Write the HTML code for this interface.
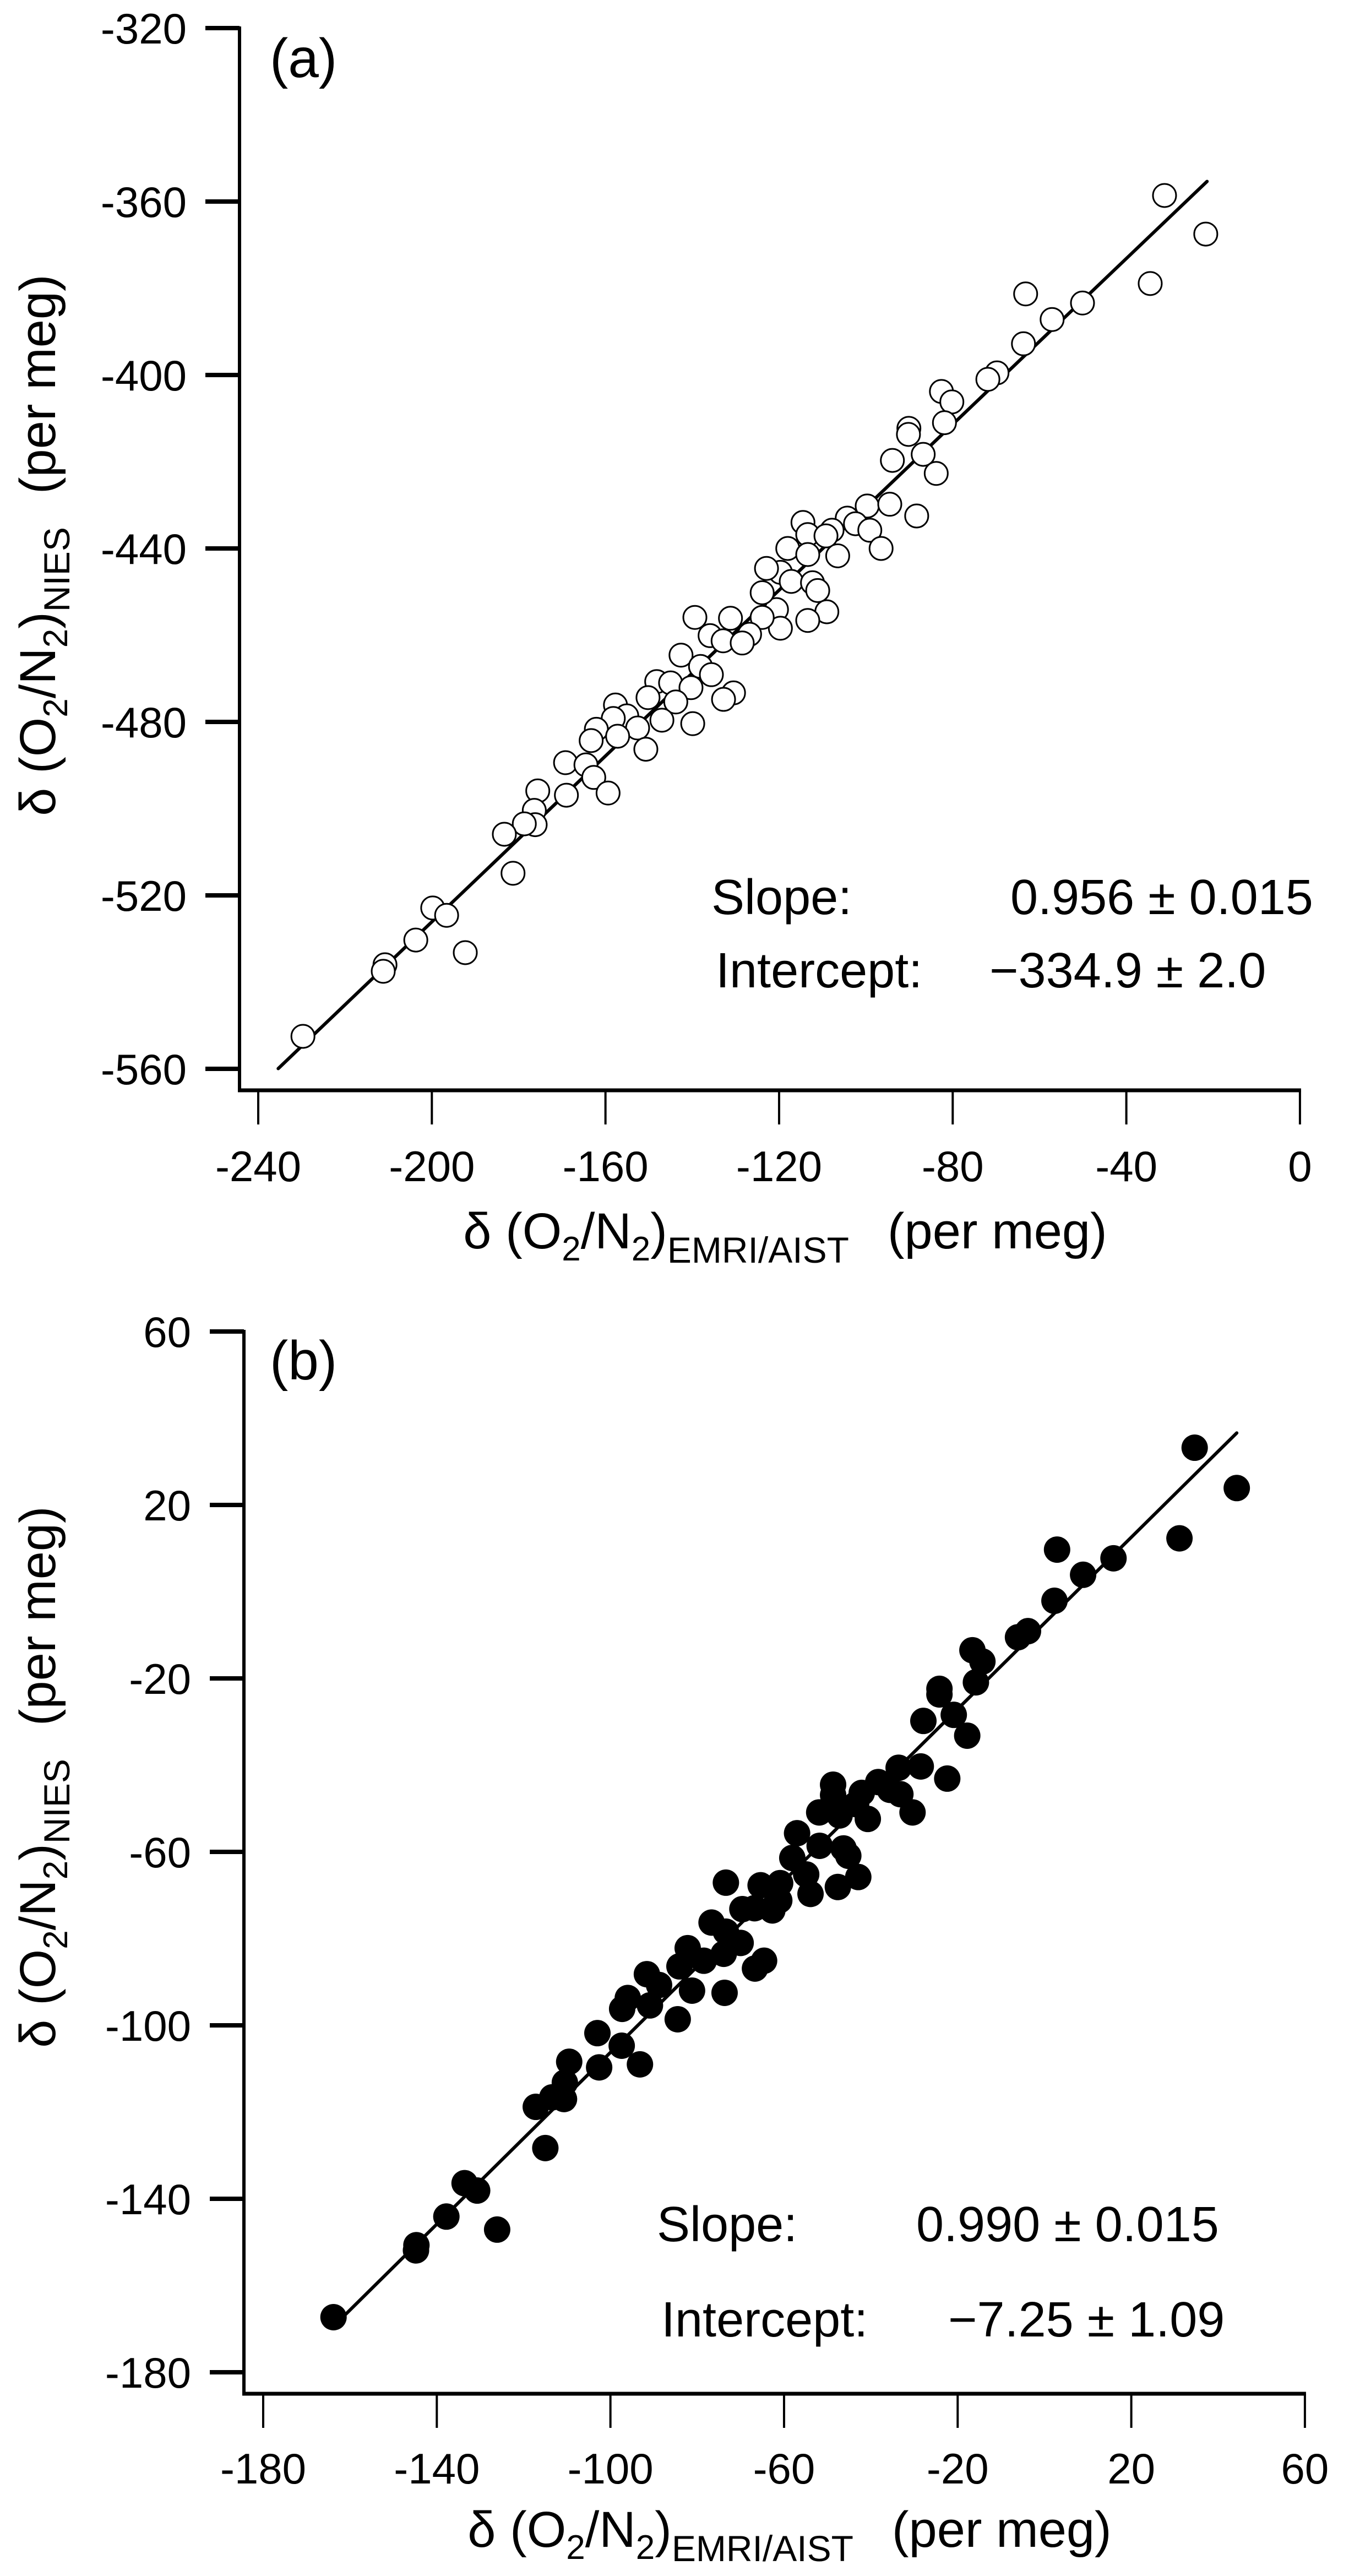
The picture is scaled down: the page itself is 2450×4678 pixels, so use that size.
<!DOCTYPE html>
<html><head><meta charset="utf-8"><style>
html,body{margin:0;padding:0;background:#fff;}
svg{display:block;font-family:"Liberation Sans",Arial,sans-serif;}
</style></head><body>
<svg id="fig" width="2450" height="4678" viewBox="0 0 2450 4678" xmlns="http://www.w3.org/2000/svg">
<rect width="2450" height="4678" fill="#fff"/>
<g id="panelA"></g>
<g id="panelB"></g>
</svg>
<script>
// ----- Panel (a) data -----
const aX = [-31.2,-21.7,-34.5,-63.2,-50.1,-57.1,-63.7,-69.8,-71.9,-82.6,-80.2,-81.9,-90.1,-90.2,-86.8,-93.9,-83.8,-99.7,-94.5,-88.3,-104.3,-102.4,-99.1,-114.5,-113.4,-107.8,-109.2,-118.0,-106.5,-96.5,-113.4,-119.7,-117.2,-112.3,-111.1,-109.0,-113.4,-120.6,-119.7,-122.9,-123.9,-123.9,-139.4,-131.2,-135.9,-132.9,-126.8,-128.5,-142.6,-138.1,-135.6,-148.2,-145.0,-140.3,-130.5,-132.8,-150.2,-143.8,-147.0,-139.9,-157.7,-155.1,-158.2,-152.6,-162.1,-163.3,-157.2,-150.7,-169.2,-164.5,-162.7,-169.0,-159.4,-175.6,-176.4,-176.2,-178.7,-183.3,-181.3,-199.8,-196.6,-203.7,-192.3,-210.8,-211.2,-229.7];
const aY = [-358.6,-367.5,-378.9,-381.3,-383.4,-387.2,-392.8,-399.5,-401.0,-403.8,-406.2,-411.0,-412.3,-413.7,-418.3,-419.7,-422.7,-430.2,-429.8,-432.5,-433.0,-434.3,-435.8,-434.0,-436.8,-435.8,-437.1,-440.0,-441.7,-440.0,-441.4,-445.5,-447.6,-447.9,-449.7,-454.6,-456.6,-454.1,-458.4,-444.6,-450.2,-455.9,-455.9,-456.1,-460.1,-461.3,-459.8,-461.8,-464.6,-467.2,-469.1,-470.7,-471.0,-472.1,-473.3,-474.8,-474.4,-475.4,-479.6,-480.4,-476.1,-478.6,-479.2,-481.4,-481.7,-484.3,-483.3,-486.3,-489.4,-489.9,-492.8,-496.9,-496.4,-495.9,-500.4,-503.7,-503.5,-505.9,-514.9,-522.9,-524.6,-530.3,-533.2,-536.0,-537.5,-552.5];
const aFit = [0.956, -334.9];
const aFitRange = [-235.4, -21.4];
const aXTicks = [-240,-200,-160,-120,-80,-40,0];
const aYTicks = [-320,-360,-400,-440,-480,-520,-560];
// ----- Panel (b) data -----
const bX = [34.6,44.3,31.1,2.9,15.9,8.9,2.3,-3.8,-6.1,-16.6,-14.3,-15.8,-24.2,-24.2,-20.9,-27.9,-17.8,-33.6,-28.5,-22.4,-38.3,-35.6,-33.2,-48.7,-48.7,-42.1,-43.4,-30.4,-40.7,-51.9,-47.2,-57.0,-51.8,-46.3,-45.2,-58.1,-54.9,-42.9,-47.6,-53.9,-60.9,-61.1,-62.7,-73.4,-65.4,-69.6,-66.8,-76.7,-73.4,-70.0,-73.9,-82.2,-78.5,-64.6,-66.7,-84.1,-81.2,-73.7,-91.6,-88.8,-96.0,-97.3,-90.9,-84.5,-103.0,-97.4,-102.6,-93.2,-109.5,-110.5,-117.2,-110.7,-113.4,-115.0,-133.6,-130.7,-137.8,-126.1,-144.7,-144.8,-163.8];
const bY = [33.2,23.9,12.3,9.7,7.7,3.9,-2.1,-9.1,-10.5,-13.5,-16.1,-20.9,-22.4,-23.7,-28.4,-29.8,-33.2,-40.6,-40.3,-43.1,-43.9,-45.7,-46.7,-44.5,-46.9,-46.4,-49.0,-50.9,-52.4,-50.9,-51.6,-55.7,-58.6,-59.2,-60.9,-61.4,-65.2,-65.8,-68.1,-69.7,-67.2,-71.2,-73.5,-67.1,-67.7,-73.2,-73.0,-76.3,-78.4,-81.0,-83.5,-82.2,-85.1,-85.1,-86.9,-86.4,-92.0,-92.5,-88.2,-90.7,-93.7,-96.2,-95.4,-98.6,-101.8,-104.7,-109.7,-109.0,-108.4,-113.2,-118.8,-117.0,-116.6,-128.3,-136.4,-138.1,-144.1,-147.1,-150.7,-151.9,-167.3];
const bFit = [0.990, -7.25];
const bFitRange = [-161, 44.3];
const bXTicks = [-180,-140,-100,-60,-20,20,60];
const bYTicks = [60,20,-20,-60,-100,-140,-180];

const NS = "http://www.w3.org/2000/svg";
function mk(parent, tag, attrs, text){
  const e = document.createElementNS(NS, tag);
  for (const k in attrs) e.setAttribute(k, attrs[k]);
  if (text !== undefined) e.textContent = text;
  parent.appendChild(e);
  return e;
}
function lab(n){ return n < 0 ? "-" + Math.abs(n) : String(n); }

function drawPanel(g, cfg){
  const sx = v => cfg.x0 + (v - cfg.xMin) * cfg.kx;
  const sy = v => cfg.y0 + (cfg.yTop - v) * cfg.ky;
  const axisLeft = cfg.axisX, axisBottom = cfg.axisY;
  const ya = mk(g, "line", {x1:axisLeft, y1:sy(cfg.yTop)-3, x2:axisLeft, y2:axisBottom, stroke:"#000","stroke-width":6});
  
  
  const xa = mk(g, "line", {x1:axisLeft-3, y1:axisBottom, x2:sx(cfg.xTicks[cfg.xTicks.length-1])+2, y2:axisBottom, stroke:"#000","stroke-width":7});
  
  
  cfg.yTicks.forEach(v => {
    const y = sy(v);
    const t = mk(g, "line", {x1:axisLeft-62, y1:y, x2:axisLeft, y2:y, stroke:"#000","stroke-width":8});
    
    
    const l = mk(g, "text", {x:axisLeft-96, y:y+28, "text-anchor":"end","font-size":78}, lab(v));
    
    
  });
  cfg.xTicks.forEach(v => {
    const x = sx(v);
    const t = mk(g, "line", {x1:x, y1:axisBottom, x2:x, y2:axisBottom+62, stroke:"#000","stroke-width":4});
    
    
    const l = mk(g, "text", {x:x, y:cfg.xLabY, "text-anchor":"middle","font-size":78}, lab(v));
    
    
  });
  const fl = mk(g, "line", {x1:sx(cfg.fitRange[0]), y1:sy(cfg.fit[0]*cfg.fitRange[0]+cfg.fit[1]), x2:sx(cfg.fitRange[1]), y2:sy(cfg.fit[0]*cfg.fitRange[1]+cfg.fit[1]), stroke:"#000","stroke-width":6,"stroke-linecap":"round"});
  
  
  cfg.xs.forEach((xv, i) => {
    const c = mk(g, "circle", cfg.filled ?
      {cx:sx(xv), cy:sy(cfg.ys[i]), r:24, fill:"#000"} :
      {cx:sx(xv), cy:sy(cfg.ys[i]), r:21, fill:"#fff", stroke:"#000","stroke-width":3});
    
    
  });
  const pl = mk(g, "text", {x:cfg.labX, y:cfg.labY, "font-size":100}, cfg.label);
  
  
  const xt = mk(g, "text", {x:cfg.xTitleX, y:cfg.xTitleY, "text-anchor":"middle","font-size":92});
  
  
  xt.innerHTML = '<tspan>δ (O</tspan><tspan font-size="62" dy="22">2</tspan><tspan dy="-22">/N</tspan><tspan font-size="62" dy="22">2</tspan><tspan dy="-22">)</tspan><tspan font-size="66" dy="26">EMRI/AIST</tspan><tspan dy="-26" dx="70">(per meg)</tspan>';
  const yt = mk(g, "text", {transform:"translate(100,"+cfg.yTitleY+") rotate(-90)", "text-anchor":"middle","font-size":92});
  
  
  yt.innerHTML = '<tspan>δ (O</tspan><tspan font-size="62" dy="22">2</tspan><tspan dy="-22">/N</tspan><tspan font-size="62" dy="22">2</tspan><tspan dy="-22">)</tspan><tspan font-size="66" dy="26">NIES</tspan><tspan dy="-26" dx="60">(per meg)</tspan>';
  const s1 = mk(g, "text", {x:cfg.statX, y:cfg.statY1, "font-size":90}, "Slope:");
  
  
  const s2 = mk(g, "text", {x:cfg.slopeValX, y:cfg.statY1, "font-size":90}, cfg.slopeTxt);
  
  
  const s3 = mk(g, "text", {x:cfg.statX+8, y:cfg.statY2, "font-size":90}, "Intercept:");
  
  
  const s4 = mk(g, "text", {x:cfg.intValX, y:cfg.statY2, "font-size":90}, cfg.intTxt);
  
  
}

drawPanel(document.getElementById("panelA"), {
  xs:aX, ys:aY, fit:aFit, fitRange:aFitRange, xTicks:aXTicks, yTicks:aYTicks, filled:false,
  x0:469, xMin:-240, kx:7.883, y0:51, yTop:-320, ky:7.875,
  axisX:435, axisY:1980, xLabY:2145, label:"(a)", labX:490, labY:140,
  xTitleX:1426, xTitleY:2267, yTitleY:990,
  statX:1292, statY1:1660, statY2:1793, slopeValX:1835, intValX:1797,
  slopeTxt:"0.956 ± 0.015", intTxt:"−334.9 ± 2.0"
});
drawPanel(document.getElementById("panelB"), {
  xs:bX, ys:bY, fit:bFit, fitRange:bFitRange, xTicks:bXTicks, yTicks:bYTicks, filled:true,
  x0:478, xMin:-180, kx:7.883, y0:2418, yTop:60, ky:7.875,
  axisX:443, axisY:4347, xLabY:4510, label:"(b)", labX:490, labY:2505,
  xTitleX:1434, xTitleY:4625, yTitleY:3227,
  statX:1193, statY1:4070, statY2:4243, slopeValX:1664, intValX:1722,
  slopeTxt:"0.990 ± 0.015", intTxt:"−7.25 ± 1.09"
});
</script>
</body></html>
